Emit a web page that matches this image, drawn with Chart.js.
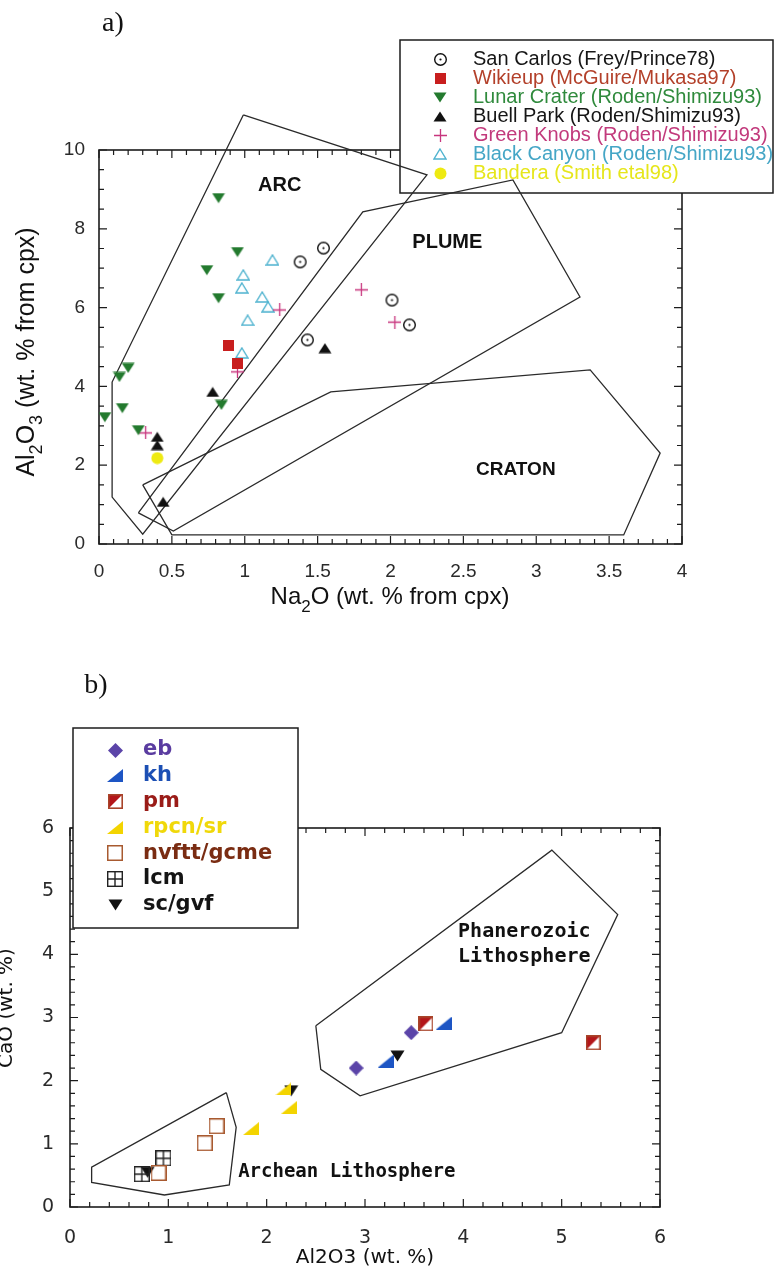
<!DOCTYPE html>
<html>
<head>
<meta charset="utf-8">
<title>Clinopyroxene Na2O / Al2O3 / CaO</title>
<script src="https://cdn.jsdelivr.net/npm/chart.js@4.4.1/dist/chart.umd.min.js"></script>
<style>
  body { margin: 0; background: #fff; }
  #page { position: relative; width: 778px; height: 1275px; overflow: hidden; }
  canvas { position: absolute; left: 0; }
  #naChart { top: 0; }
  #caChart { top: 620px; }
</style>
</head>
<body>
<div id="page">
  <canvas id="naChart" width="778" height="620"></canvas>
  <canvas id="caChart" width="778" height="655"></canvas>
</div>
<script>
// ---- (a) cpx Na2O vs Al2O3, wt. % ----
const sanCarlosNa = [1.38, 1.54, 1.43, 2.01, 2.13];
const sanCarlosAl = [7.16, 7.51, 5.18, 6.19, 5.56];
const wikieupNa = [0.89, 0.95];
const wikieupAl = [5.05, 4.59];
const lunarNa = [0.82, 0.95, 0.74, 0.82, 0.84, 0.20, 0.14, 0.16, 0.04, 0.27];
const lunarAl = [8.78, 7.41, 6.95, 6.24, 3.53, 4.47, 4.24, 3.45, 3.22, 2.89];
const buellNa = [1.55, 0.78, 0.40, 0.40, 0.44];
const buellAl = [4.97, 3.86, 2.72, 2.51, 1.07];
const greenKnobsNa = [1.24, 1.80, 2.03, 0.95, 0.32];
const greenKnobsAl = [5.94, 6.45, 5.63, 4.37, 2.82];
const blackCanyonNa = [1.19, 0.99, 0.98, 1.12, 1.16, 1.02, 0.98];
const blackCanyonAl = [7.21, 6.83, 6.50, 6.27, 6.02, 5.68, 4.85];
const banderaNa = [0.40];
const banderaAl = [2.18];

// tectonic fields (a)
const arcNa = [0.99, 2.25, 0.30, 0.09, 0.09, 0.99];
const arcAl = [10.89, 9.37, 0.25, 1.19, 4.11, 10.89];
const plumeNa = [0.27, 1.81, 2.84, 3.30, 0.51, 0.27];
const plumeAl = [0.79, 8.43, 9.24, 6.27, 0.33, 0.79];
const cratonNa = [0.30, 1.59, 3.37, 3.85, 3.60, 0.50, 0.30];
const cratonAl = [1.50, 3.86, 4.42, 2.31, 0.23, 0.23, 1.50];

// ---- (b) Al2O3 vs CaO, wt. % ----
const ebAl = [2.91, 3.47];
const ebCa = [2.20, 2.76];
const khAl = [3.80, 3.21];
const khCa = [2.91, 2.31];
const pmAl = [3.62, 5.32];
const pmCa = [2.90, 2.60];
const rpcnAl = [1.84, 2.17, 2.23];
const rpcnCa = [1.24, 1.87, 1.58];
const nvfttAl = [0.90, 1.37, 1.49];
const nvfttCa = [0.54, 1.01, 1.28];
const lcmAl = [0.73, 0.95];
const lcmCa = [0.52, 0.77];
const scAl = [3.33, 0.79, 2.25];
const scCa = [2.39, 0.55, 1.84];

// lithosphere fields (b)
const phanAl = [2.50, 2.55, 2.95, 5.00, 5.57, 4.90, 2.50];
const phanCa = [2.87, 2.18, 1.76, 2.76, 4.63, 5.65, 2.87];
const archAl = [1.59, 1.69, 1.62, 0.96, 0.22, 0.22, 1.59];
const archCa = [1.81, 1.26, 0.35, 0.19, 0.39, 0.63, 1.81];

const SANS = '"Liberation Sans", Arial, sans-serif';
const GENEVA = '"DejaVu Sans", Verdana, sans-serif';
const MONO = '"DejaVu Sans Mono", monospace';
const SERIF = '"Liberation Serif", "Times New Roman", serif';

function pts(xs, ys) {
    return xs.map((x, i) => ({ x: x, y: ys[i] }));
}

// small offscreen canvases used as point styles
function marker(w, h, draw) {
    const c = document.createElement('canvas');
    c.width = w;
    c.height = h;
    draw(c.getContext('2d'), w, h);
    return c;
}

function tri(g, w, h, down) {
    g.beginPath();
    if (down) {
        g.moveTo(0.5, 0.5); g.lineTo(w - 0.5, 0.5); g.lineTo(w / 2, h - 0.5);
    } else {
        g.moveTo(w / 2, 0.5); g.lineTo(w - 0.5, h - 0.5); g.lineTo(0.5, h - 0.5);
    }
    g.closePath();
}

function rightTri(g, w, h) {
    g.beginPath();
    g.moveTo(0, h); g.lineTo(w, h); g.lineTo(w, 0);
    g.closePath();
}

const ringDot = marker(15, 15, g => {
    g.strokeStyle = '#111'; g.lineWidth = 1.4;
    g.beginPath(); g.arc(7.5, 7.5, 5.8, 0, Math.PI * 2); g.stroke();
    g.fillStyle = '#111';
    g.beginPath(); g.arc(7.5, 7.5, 1.1, 0, Math.PI * 2); g.fill();
});
const redSquare = marker(11, 11, g => { g.fillStyle = '#c81e1e'; g.fillRect(0, 0, 11, 11); });
const greenDown = marker(14, 11, (g, w, h) => { tri(g, w, h, true); g.fillStyle = '#237a2e'; g.fill(); });
const blackUp = marker(14, 11, (g, w, h) => { tri(g, w, h, false); g.fillStyle = '#111'; g.fill(); });
const pinkPlus = marker(13, 13, g => {
    g.strokeStyle = '#c8357e'; g.lineWidth = 1.3;
    g.beginPath(); g.moveTo(6.5, 0); g.lineTo(6.5, 13); g.moveTo(0, 6.5); g.lineTo(13, 6.5); g.stroke();
});
const cyanOpen = marker(14, 12, (g, w, h) => {
    g.beginPath(); g.moveTo(w / 2, 1); g.lineTo(w - 1, h - 1); g.lineTo(1, h - 1); g.closePath();
    g.strokeStyle = '#4fb3cf'; g.lineWidth = 1.4; g.stroke();
});
const yellowDot = marker(13, 13, g => {
    g.fillStyle = '#eeea12';
    g.beginPath(); g.arc(6.5, 6.5, 6, 0, Math.PI * 2); g.fill();
});

const purpleDiamond = marker(15, 15, g => {
    g.beginPath(); g.moveTo(7.5, 0); g.lineTo(15, 7.5); g.lineTo(7.5, 15); g.lineTo(0, 7.5); g.closePath();
    g.fillStyle = '#5b44a8'; g.fill();
});
const blueWedge = marker(16, 13, (g, w, h) => { rightTri(g, w, h); g.fillStyle = '#1d55c4'; g.fill(); });
const halfSquare = marker(15, 15, g => {
    g.fillStyle = '#fff'; g.fillRect(0, 0, 15, 15);
    g.beginPath(); g.moveTo(0, 0); g.lineTo(15, 0); g.lineTo(0, 15); g.closePath();
    g.fillStyle = '#b3161a'; g.fill();
    g.strokeStyle = '#a8442a'; g.lineWidth = 1.6; g.strokeRect(0.8, 0.8, 13.4, 13.4);
});
const yellowWedge = marker(16, 13, (g, w, h) => { rightTri(g, w, h); g.fillStyle = '#f3d400'; g.fill(); });
const brownSquare = marker(16, 16, g => {
    g.strokeStyle = '#a85a30'; g.lineWidth = 1.5; g.strokeRect(0.75, 0.75, 14.5, 14.5);
});
const gridSquare = marker(16, 16, g => {
    g.strokeStyle = '#222'; g.lineWidth = 1.4;
    g.strokeRect(0.7, 0.7, 14.6, 14.6);
    g.beginPath(); g.moveTo(8, 0); g.lineTo(8, 16); g.moveTo(0, 8); g.lineTo(16, 8); g.stroke();
});
const blackDown = marker(15, 12, (g, w, h) => { tri(g, w, h, true); g.fillStyle = '#111'; g.fill(); });

function fieldLine(xs, ys) {
    return {
        data: pts(xs, ys),
        showLine: true,
        pointRadius: 0,
        borderColor: '#2a2a2a',
        borderWidth: 1.3,
        fill: false,
        clip: false,
        order: 10
    };
}

function pointSet(label, xs, ys, img, color) {
    return {
        label: label,
        data: pts(xs, ys),
        pointStyle: img,
        pointRadius: 7,
        showLine: false,
        legendColor: color,
        order: 1
    };
}

// draws text made of normal and subscript pieces, centred on (cx, cy)
function drawParts(ctx, parts, cx, cy, size, family, weight) {
    const sub = Math.round(size * 0.72);
    const fonts = parts.map(p => `${weight} ${p[1] ? sub : size}px ${family}`);
    let total = 0;
    const widths = parts.map((p, i) => {
        ctx.font = fonts[i];
        const w = ctx.measureText(p[0]).width;
        total += w;
        return w;
    });
    let x = cx - total / 2;
    ctx.textAlign = 'left';
    ctx.textBaseline = 'middle';
    parts.forEach((p, i) => {
        ctx.font = fonts[i];
        ctx.fillText(p[0], x, cy + (p[1] ? size * 0.42 : 0));
        x += widths[i];
    });
}

// box frame with inward minor/major ticks, and the boxed key
function frameAndKey(cfg) {
    return {
        id: 'frameAndKey',
        beforeDatasetsDraw(chart) {
            const { ctx, chartArea: a } = chart;
            const sx = chart.scales.x, sy = chart.scales.y;
            ctx.save();
            ctx.strokeStyle = '#1c1c1c';
            ctx.lineWidth = 1.6;
            ctx.strokeRect(a.left, a.top, a.right - a.left, a.bottom - a.top);

            ctx.lineWidth = 1.2;
            ctx.beginPath();
            const nx = Math.round((sx.max - sx.min) / cfg.minorX);
            for (let i = 0; i <= nx; i++) {
                const px = sx.getPixelForValue(sx.min + i * cfg.minorX);
                const len = i % cfg.perMajorX === 0 ? 8 : 5;
                ctx.moveTo(px, a.bottom); ctx.lineTo(px, a.bottom - len);
                ctx.moveTo(px, a.top); ctx.lineTo(px, a.top + len);
            }
            const ny = Math.round((sy.max - sy.min) / cfg.minorY);
            for (let i = 0; i <= ny; i++) {
                const py = sy.getPixelForValue(sy.min + i * cfg.minorY);
                const len = i % cfg.perMajorY === 0 ? 8 : 5;
                ctx.moveTo(a.left, py); ctx.lineTo(a.left + len, py);
                ctx.moveTo(a.right, py); ctx.lineTo(a.right - len, py);
            }
            ctx.stroke();

            const k = cfg.key;
            ctx.fillStyle = '#fff';
            ctx.fillRect(k.left, k.top, k.width, k.height);
            ctx.lineWidth = 1.5;
            ctx.strokeRect(k.left, k.top, k.width, k.height);
            ctx.font = k.font;
            ctx.textAlign = 'left';
            ctx.textBaseline = 'middle';
            let row = 0;
            chart.data.datasets.forEach(ds => {
                if (!ds.legendColor) return;
                const y = k.firstRow + row * k.step;
                const img = ds.pointStyle;
                ctx.drawImage(img, Math.round(k.markerX - img.width / 2), Math.round(y - img.height / 2));
                ctx.fillStyle = ds.legendColor;
                ctx.fillText(ds.label, k.textX, y);
                row++;
            });
            ctx.restore();
        }
    };
}

// panel letter, axis titles and field names
function captions(items) {
    return {
        id: 'captions',
        afterDraw(chart) {
            const ctx = chart.ctx;
            const sx = chart.scales.x, sy = chart.scales.y;
            ctx.save();
            ctx.fillStyle = '#111';
            items.forEach(it => {
                const x = it.px ? it.px[0] : sx.getPixelForValue(it.val[0]);
                const y = it.px ? it.px[1] : sy.getPixelForValue(it.val[1]);
                ctx.save();
                ctx.translate(x, y);
                if (it.rotate) ctx.rotate(it.rotate);
                if (it.parts) {
                    drawParts(ctx, it.parts, 0, 0, it.size, it.family, it.weight || 'normal');
                } else {
                    ctx.font = `${it.weight || 'normal'} ${it.size}px ${it.family}`;
                    ctx.textAlign = it.align || 'center';
                    ctx.textBaseline = 'middle';
                    ctx.fillText(it.text, 0, 0);
                }
                ctx.restore();
            });
            ctx.restore();
        }
    };
}

function axisOptions(min, max, step, padding, family, size, fixed, isX) {
    return {
        type: 'linear',
        min: min,
        max: max,
        grid: { display: false, drawTicks: false },
        border: { display: false },
        ticks: {
            stepSize: step,
            autoSkip: false,
            padding: padding,
            color: '#2a2a2a',
            font: { family: family, size: size },
            callback: v => String(Math.round(v * 10) / 10)
        },
        afterFit: s => {
            if (isX) s.height = fixed; else s.width = fixed;
        }
    };
}

function createNaChart() {
    const canvas = document.getElementById('naChart').getContext('2d');
    new Chart(canvas, {
        type: 'scatter',
        data: {
            datasets: [
                pointSet('San Carlos (Frey/Prince78)', sanCarlosNa, sanCarlosAl, ringDot, '#161616'),
                pointSet('Wikieup (McGuire/Mukasa97)', wikieupNa, wikieupAl, redSquare, '#b3402a'),
                pointSet('Lunar Crater (Roden/Shimizu93)', lunarNa, lunarAl, greenDown, '#2f8a3c'),
                pointSet('Buell Park (Roden/Shimizu93)', buellNa, buellAl, blackUp, '#161616'),
                pointSet('Green Knobs (Roden/Shimizu93)', greenKnobsNa, greenKnobsAl, pinkPlus, '#c23a7c'),
                pointSet('Black Canyon (Roden/Shimizu93)', blackCanyonNa, blackCanyonAl, cyanOpen, '#45a6c6'),
                pointSet('Bandera (Smith etal98)', banderaNa, banderaAl, yellowDot, '#e6e61a'),
                fieldLine(arcNa, arcAl),
                fieldLine(plumeNa, plumeAl),
                fieldLine(cratonNa, cratonAl)
            ]
        },
        options: {
            responsive: false,
            animation: false,
            layout: { padding: { left: 0, top: 150, right: 96, bottom: 0 } },
            scales: {
                x: axisOptions(0, 4, 0.5, 16, SANS, 19, 76, true),
                y: axisOptions(0, 10, 2, 14, SANS, 19, 99, false)
            },
            plugins: {
                legend: { display: false },
                tooltip: { enabled: false }
            }
        },
        plugins: [
            frameAndKey({
                minorX: 0.1, perMajorX: 5, minorY: 0.5, perMajorY: 4,
                key: {
                    left: 400, top: 40, width: 373, height: 153,
                    markerX: 440, textX: 473, firstRow: 59, step: 19,
                    font: `20px ${SANS}`
                }
            }),
            captions([
                { text: 'a)', px: [113, 24], size: 28, family: SERIF },
                { parts: [['Na', 0], ['2', 1], ['O (wt. % from cpx)', 0]], px: [390, 597], size: 24, family: SANS },
                { parts: [['Al', 0], ['2', 1], ['O', 0], ['3', 1], [' (wt. % from cpx)', 0]], px: [27, 352], size: 25, family: SANS, rotate: -Math.PI / 2 },
                { text: 'ARC', val: [1.24, 9.11], size: 20, family: SANS, weight: 'bold' },
                { text: 'PLUME', val: [2.39, 7.66], size: 20, family: SANS, weight: 'bold' },
                { text: 'CRATON', val: [2.86, 1.88], size: 19, family: SANS, weight: 'bold' }
            ])
        ]
    });
}

function createCaChart() {
    const canvas = document.getElementById('caChart').getContext('2d');
    new Chart(canvas, {
        type: 'scatter',
        data: {
            datasets: [
                pointSet('eb', ebAl, ebCa, purpleDiamond, '#5a3ca0'),
                pointSet('kh', khAl, khCa, blueWedge, '#1c4fb4'),
                pointSet('pm', pmAl, pmCa, halfSquare, '#9a1c18'),
                pointSet('rpcn/sr', rpcnAl, rpcnCa, yellowWedge, '#f0d80a'),
                pointSet('nvftt/gcme', nvfttAl, nvfttCa, brownSquare, '#7a2c12'),
                pointSet('lcm', lcmAl, lcmCa, gridSquare, '#141414'),
                pointSet('sc/gvf', scAl, scCa, blackDown, '#141414'),
                fieldLine(phanAl, phanCa),
                fieldLine(archAl, archCa)
            ]
        },
        options: {
            responsive: false,
            animation: false,
            layout: { padding: { left: 0, top: 208, right: 118, bottom: 0 } },
            scales: {
                x: axisOptions(0, 6, 1, 20, GENEVA, 19, 68, true),
                y: axisOptions(0, 6, 1, 16, GENEVA, 19, 70, false)
            },
            plugins: {
                legend: { display: false },
                tooltip: { enabled: false }
            }
        },
        plugins: [
            frameAndKey({
                minorX: 0.2, perMajorX: 5, minorY: 0.2, perMajorY: 5,
                key: {
                    left: 73, top: 108, width: 225, height: 200,
                    markerX: 115, textX: 143, firstRow: 130, step: 25.8,
                    font: `bold 21px ${GENEVA}`
                }
            }),
            captions([
                { text: 'b)', px: [96, 66], size: 28, family: SERIF },
                { text: 'Al2O3 (wt. %)', px: [365, 638], size: 20, family: GENEVA },
                { text: 'CaO (wt. %)', px: [7, 388], size: 20, family: GENEVA, rotate: -Math.PI / 2 },
                { text: 'Phanerozoic', val: [4.62, 4.35], size: 20, family: MONO, weight: 'bold' },
                { text: 'Lithosphere', val: [4.62, 3.96], size: 20, family: MONO, weight: 'bold' },
                { text: 'Archean Lithosphere', val: [1.71, 0.55], size: 19, family: MONO, weight: 'bold', align: 'left' }
            ])
        ]
    });
}

createNaChart();
createCaChart();
</script>
</body>
</html>
